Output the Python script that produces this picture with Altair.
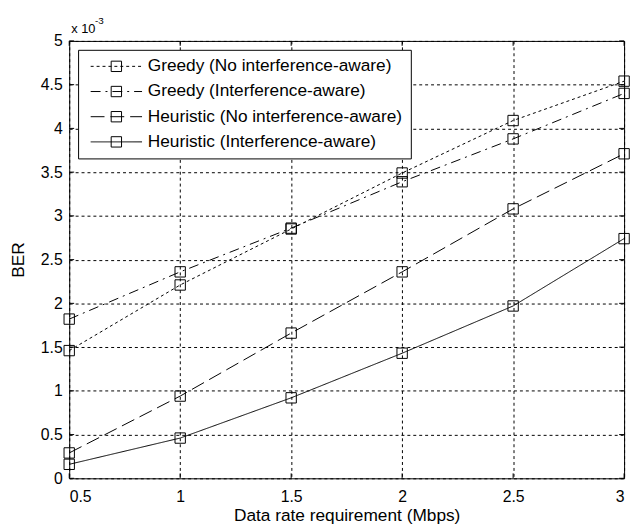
import altair as alt
import pandas as pd

# ---- data (BER in units of 1e-3) ----
x_vals = [0.5, 1.0, 1.5, 2.0, 2.5, 3.0]
greedy_nia = [1.46, 2.21, 2.85, 3.49, 4.09, 4.54]
greedy_ia = [1.82, 2.36, 2.86, 3.39, 3.88, 4.40]
heur_nia = [0.29, 0.94, 1.66, 2.36, 3.08, 3.71]
heur_ia = [0.16, 0.46, 0.92, 1.43, 1.97, 2.74]
series_names = [
    "Greedy (No interference-aware)",
    "Greedy (Interference-aware)",
    "Heuristic (No interference-aware)",
    "Heuristic (Interference-aware)",
]
x_ticks = [0.5, 1, 1.5, 2, 2.5, 3]
y_ticks = [0, 0.5, 1, 1.5, 2, 2.5, 3, 3.5, 4, 4.5, 5]
x_title = "Data rate requirement (Mbps)"
y_title = "BER"
exp_base = ["x 10"]
exp_power = ["-3"]

rows = []
for name, vals in zip(series_names, [greedy_nia, greedy_ia, heur_nia, heur_ia]):
    for xv, yv in zip(x_vals, vals):
        rows.append({"x": xv, "ber": yv, "series": name, "series_pt": name})
df = pd.DataFrame(rows)

W, H = 562, 443
FONT = "Liberation Sans"
dashes = [[3, 3], [10, 5, 2, 5], [14, 6], [1, 0]]
SQ = "M-1,-1H1V1H-1Z"
LINE = "M-4.96,0H4.96"

xs = alt.Scale(domain=[0.5, 3], nice=False, zero=False)
ys = alt.Scale(domain=[0, 5], nice=False)

x_enc = alt.X("x:Q", scale=xs, axis=alt.Axis(
    values=x_ticks, format="~g", title=x_title, grid=True, ticks=False, domain=False,
    labelPadding=10, titlePadding=3))
y_enc = alt.Y("ber:Q", scale=ys, axis=alt.Axis(
    values=y_ticks, format="~g", title=y_title, grid=True, ticks=False, domain=False,
    labelPadding=7, titlePadding=13))

common_leg = dict(title=None, orient="none", legendX=9, legendY=9, symbolSize=110,
                  symbolOffset=22, labelOffset=23, labelFont=FONT, labelFontSize=17.5,
                  labelLimit=500, padding=8, rowPadding=6.5, cornerRadius=0,
                  symbolStrokeWidth=1)

lines = alt.Chart(df).mark_line(color="black", strokeWidth=1).encode(
    x=x_enc, y=y_enc,
    strokeDash=alt.StrokeDash("series:N", scale=alt.Scale(domain=series_names, range=dashes),
                              legend=alt.Legend(symbolType=LINE, symbolStrokeColor="black",
                                                symbolFillColor="transparent", labelColor="black",
                                                strokeColor="black", fillColor="white",
                                                **common_leg)),
    detail="series:N",
)

points = alt.Chart(df).mark_point(color="black", filled=False, size=110, strokeWidth=1, opacity=1).encode(
    x=alt.X("x:Q", scale=xs),
    y=alt.Y("ber:Q", scale=ys),
    shape=alt.Shape("series_pt:N", scale=alt.Scale(domain=series_names, range=[SQ] * 4),
                    legend=alt.Legend(symbolType=SQ, symbolStrokeColor="black",
                                      symbolFillColor="transparent", labelOpacity=0,
                                      labelColor="black",
                                      strokeColor="transparent", fillColor="transparent",
                                      **common_leg)),
)

xt = pd.DataFrame({"x": x_ticks})
yt = pd.DataFrame({"ber": y_ticks})
tick_b = alt.Chart(xt).mark_rule(color="black", strokeWidth=1).encode(
    x=alt.X("x:Q", scale=xs), y=alt.value(H), y2=alt.value(H - 5))
tick_t = alt.Chart(xt).mark_rule(color="black", strokeWidth=1).encode(
    x=alt.X("x:Q", scale=xs), y=alt.value(0), y2=alt.value(5))
tick_l = alt.Chart(yt).mark_rule(color="black", strokeWidth=1).encode(
    y=alt.Y("ber:Q", scale=ys), x=alt.value(0), x2=alt.value(5))
tick_r = alt.Chart(yt).mark_rule(color="black", strokeWidth=1).encode(
    y=alt.Y("ber:Q", scale=ys), x=alt.value(W - 5), x2=alt.value(W))

t1 = alt.Chart(pd.DataFrame({"t": exp_base})).mark_text(
    align="left", baseline="alphabetic", font=FONT, fontSize=13, color="black").encode(
    text="t:N", x=alt.value(2), y=alt.value(-8))
t2 = alt.Chart(pd.DataFrame({"t": exp_power})).mark_text(
    align="left", baseline="alphabetic", font=FONT, fontSize=10, color="black").encode(
    text="t:N", x=alt.value(26), y=alt.value(-17))

chart = alt.layer(lines, points, tick_b, tick_t, tick_l, tick_r, t1, t2).resolve_legend(
    strokeDash="independent", shape="independent"
).properties(
    width=W, height=H,
    autosize=alt.AutoSizeParams(type="none"),
    padding={"left": 62, "top": 30, "right": 7, "bottom": 48},
    background="white",
).configure_view(
    stroke="black", strokeWidth=1
).configure_axis(
    labelFont=FONT, labelFontSize=16, labelColor="black",
    titleFont=FONT, titleFontSize=17.5, titleFontWeight="normal", titleColor="black",
    gridColor="black", gridDash=[3, 3], gridOpacity=1, gridWidth=1,
)

chart.save("out.html", embed_options={"renderer": "svg", "actions": False})
